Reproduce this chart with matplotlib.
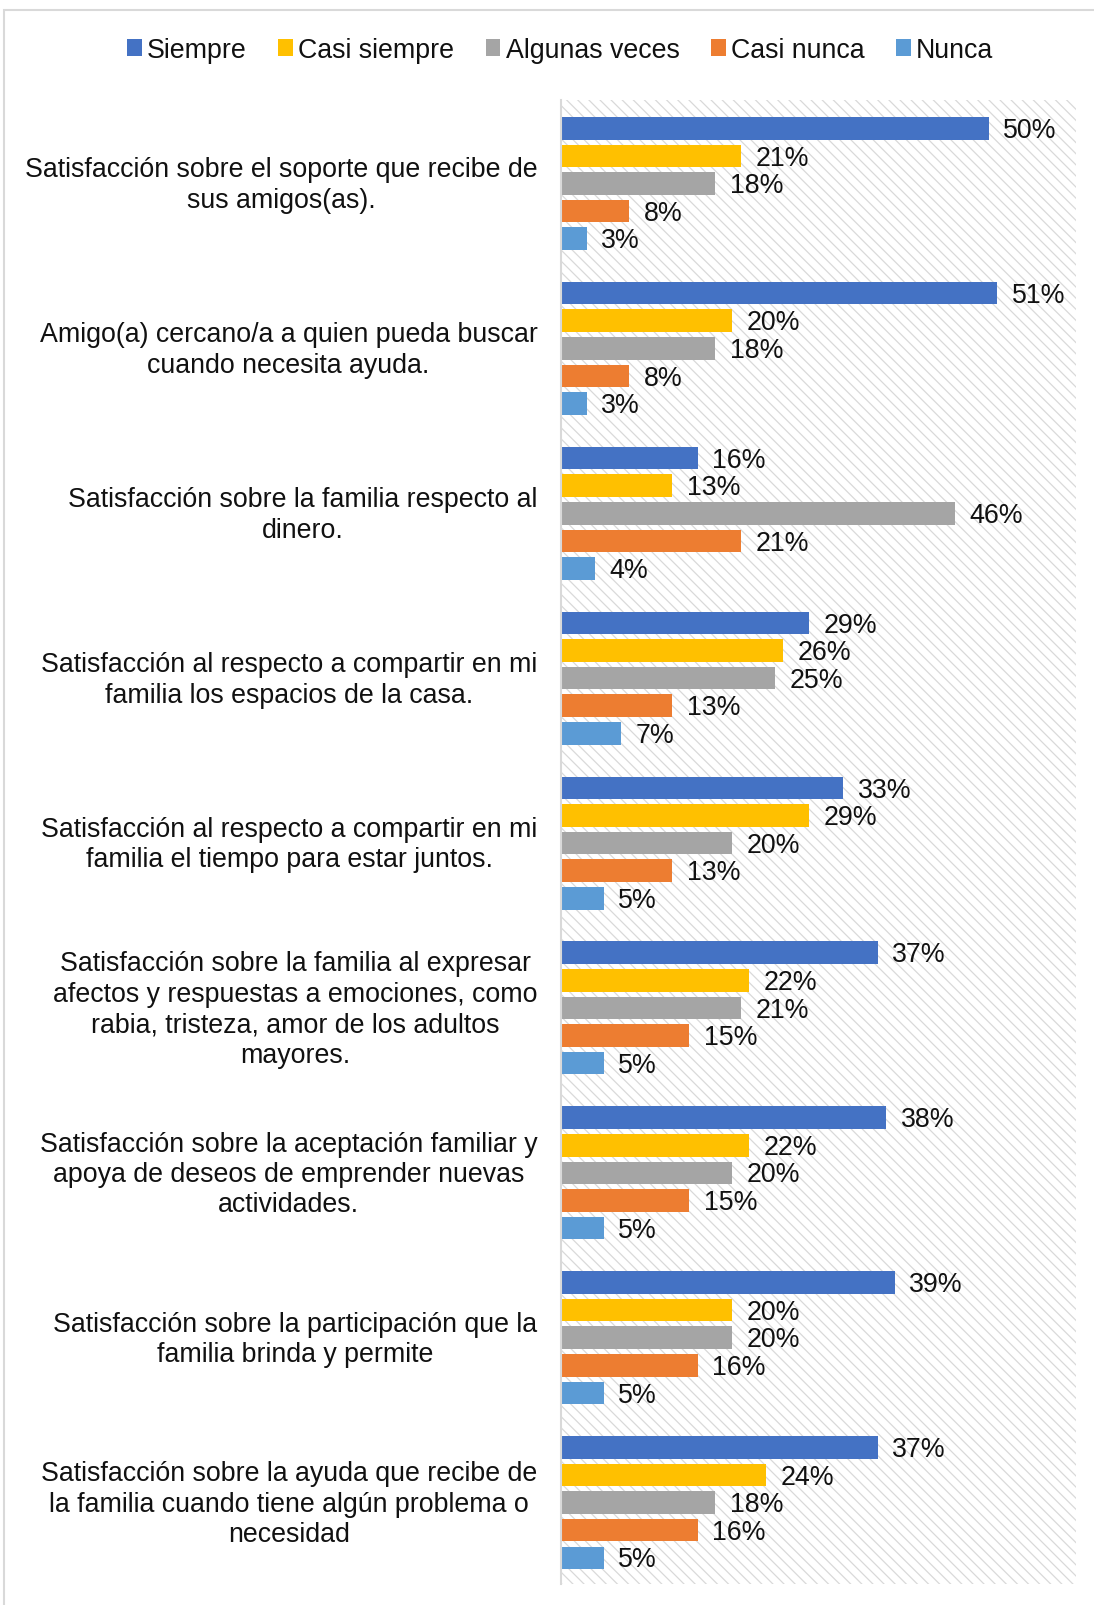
import matplotlib
matplotlib.use("Agg")
import matplotlib.pyplot as plt
from matplotlib.patches import Patch, Rectangle
from matplotlib.transforms import ScaledTranslation

plt.rcParams['font.family'] = ['Liberation Sans', 'DejaVu Sans']
plt.rcParams['hatch.linewidth'] = 0.9
plt.rcParams['hatch.color'] = '#D9D9D9'

categories = [
    "Satisfacción sobre el soporte que recibe de\nsus amigos(as).",
    "Amigo(a) cercano/a a quien pueda buscar\ncuando necesita ayuda.",
    "Satisfacción sobre la familia respecto al\ndinero.",
    "Satisfacción al respecto a compartir en mi\nfamilia los espacios de la casa.",
    "Satisfacción al respecto a compartir en mi\nfamilia el tiempo para estar juntos.",
    "Satisfacción sobre la familia al expresar\nafectos y respuestas a emociones, como\nrabia, tristeza, amor de los adultos\nmayores.",
    "Satisfacción sobre la aceptación familiar y\napoya de deseos de emprender nuevas\nactividades.",
    "Satisfacción sobre la participación que la\nfamilia brinda y permite",
    "Satisfacción sobre la ayuda que recibe de\nla familia cuando tiene algún problema o\nnecesidad",
]

series_names = ["Siempre", "Casi siempre", "Algunas veces", "Casi nunca", "Nunca"]
siempre       = [50, 51, 16, 29, 33, 37, 38, 39, 37]
casi_siempre  = [21, 20, 13, 26, 29, 22, 22, 20, 24]
algunas_veces = [18, 18, 46, 25, 20, 21, 20, 20, 18]
casi_nunca    = [8, 8, 21, 13, 13, 15, 15, 16, 16]
nunca         = [3, 3, 4, 7, 5, 5, 5, 5, 5]
series_values = [siempre, casi_siempre, algunas_veces, casi_nunca, nunca]
colors = ["#4472C4", "#FFC000", "#A5A5A5", "#ED7D31", "#5B9BD5"]

FS = 19.3
W, H = 1094, 1606
fig = plt.figure(figsize=(W / 100, H / 100), dpi=100)

# outer chart frame (top and left edges visible)
fig.add_artist(Rectangle((4 / W, -0.05), 1.2, 1 - 11 / H + 0.05,
                         transform=fig.transFigure, fill=False,
                         edgecolor='#D9D9D9', linewidth=1.5))

left, right, top, bottom = 561 / W, 1076 / W, 101 / H, 1585 / H
ax = fig.add_axes([left, 1 - bottom, right - left, bottom - top])

# hatched plot-area background
ax.set_facecolor('white')
ax.add_patch(Rectangle((0, 0), 1, 1, transform=ax.transAxes, facecolor='white',
                       edgecolor='#D9D9D9', hatch='\\\\\\', linewidth=0, zorder=0))

n_groups = len(categories)
slot = 0.1674
bar_h = 0.137
first = 0.103 + bar_h / 2

for j, (name, vals, c) in enumerate(zip(series_names, series_values, colors)):
    ys = [i + first + j * slot for i in range(n_groups)]
    ax.barh(ys, vals, height=bar_h, color=c, zorder=2, label=name)
    for y, v in zip(ys, vals):
        ax.annotate(f"{v}%", (v, y), xytext=(10.5, -1.2), textcoords='offset points',
                    ha='left', va='center', fontsize=FS, color='#111111', zorder=3)

ax.set_xlim(0, 60.2)
ax.set_ylim(n_groups, 0)
ax.set_xticks([])
ax.set_yticks([i + 0.5 for i in range(n_groups)], categories)
ax.tick_params(axis='y', length=0, pad=17, labelsize=FS, labelcolor='#111111')
lift = ScaledTranslation(0, 3 / 100, fig.dpi_scale_trans)
for lbl in ax.get_yticklabels():
    lbl.set_multialignment('center')
    lbl.set_linespacing(1.22)
    lbl.set_transform(lbl.get_transform() + lift)

for s in ['top', 'right', 'bottom']:
    ax.spines[s].set_visible(False)
ax.spines['left'].set_color('#D9D9D9')
ax.spines['left'].set_linewidth(1.5)

handles = [Patch(facecolor=c, edgecolor='none') for c in colors]
fig.legend(handles, series_names, loc='center', bbox_to_anchor=(0.512, 1 - 51 / H),
           ncol=5, frameon=False, fontsize=FS, handlelength=0.55, handleheight=0.55,
           handletextpad=0.2, columnspacing=1.17, labelcolor='#111111')

fig.savefig("out.png", dpi=100, facecolor='white')
